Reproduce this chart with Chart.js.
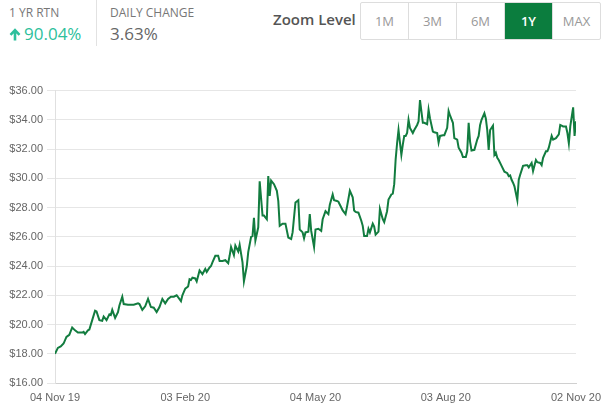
<!DOCTYPE html>
<html>
<head>
<meta charset="utf-8">
<script src="https://cdn.jsdelivr.net/npm/chart.js@4/dist/chart.umd.min.js"></script>
<style>
  html, body { margin: 0; padding: 0; background: #fff; }
  body { width: 615px; height: 413px; position: relative; overflow: hidden; font-family: "Open Sans", sans-serif; }
  .stat { position: absolute; top: 4px; }
  .stat .l { font-size: 12px; color: #777; letter-spacing: 0; }
  .stat .v { font-size: 17px; margin-top: 1px; }
  .divider { position: absolute; left: 96px; top: 0; width: 1px; height: 46px; background: #e2e2e2; }
  .zoom-label { position: absolute; left: 273px; top: 9px; font-size: 15px; font-weight: 600; color: #555; }
  .zoom { position: absolute; left: 360px; top: 2px; display: flex; border: 1px solid #ddd; border-radius: 2px; }
  .zoom span { width: 47px; height: 36px; line-height: 36px; text-align: center; font-size: 13px; color: #999; border-left: 1px solid #ddd; }
  .zoom span:first-child { border-left: none; }
  .zoom span.on { background: #0b7d3e; color: #fff; font-weight: 600; }
  #chart { position: absolute; left: 0; top: 80px; }
</style>
</head>
<body>
<div class="stat" style="left:9px;">
  <div class="l">1 YR RTN</div>
  <div class="v" style="color:#2dbf9c;"><svg width="12" height="13" viewBox="0 0 12 13" style="vertical-align:-1px;margin-right:3px;"><path d="M6 12.5V2.5M1.5 6.8L6 2.2L10.5 6.8" fill="none" stroke="#2dbf9c" stroke-width="2.6"/></svg>90.04%</div>
</div>
<div class="divider"></div>
<div class="stat" style="left:110px;">
  <div class="l">DAILY CHANGE</div>
  <div class="v" style="color:#666;">3.63%</div>
</div>
<div class="zoom-label">Zoom Level</div>
<div class="zoom"><span>1M</span><span>3M</span><span>6M</span><span class="on">1Y</span><span>MAX</span></div>
<canvas id="chart" width="615" height="333"></canvas>
<script>
// Days since 04 Nov 19, and closing price
const days = [
  0, 2, 4, 6, 8, 10, 12, 14, 16, 19, 20, 21, 23, 24, 26, 28, 29, 31, 33, 34,
  36, 38, 39, 40, 42, 44, 45, 47, 48, 51, 55, 58, 59, 61, 63, 65, 67, 69, 71, 73,
  75, 77, 79, 81, 83, 85, 88, 89, 91, 93, 94, 95, 96, 98, 99, 101, 103, 105, 106, 108,
  109, 110, 112, 114, 115, 117, 119, 121, 122, 123, 125, 126, 128, 129, 131, 132, 134, 135, 137, 138,
  139, 140, 142, 143, 145, 146, 148, 149, 150, 151, 153, 155, 156, 157, 159, 161, 163, 165, 166, 168,
  170, 171, 173, 174, 175, 177, 178, 179, 181, 182, 184, 186, 187, 189, 191, 192, 194, 195, 197, 198,
  200, 201, 203, 204, 206, 208, 209, 210, 212, 214, 215, 216, 218, 219, 220, 222, 223, 224, 226, 227,
  229, 230, 232, 233, 235, 236, 237, 238, 239, 240, 242, 243, 244, 245, 246, 247, 248, 250, 251, 253,
  254, 255, 257, 258, 260, 261, 262, 264, 265, 267, 268, 269, 271, 272, 274, 275, 276, 278, 279, 280,
  281, 282, 284, 285, 287, 288, 289, 290, 291, 293, 295, 296, 297, 298, 300, 301, 302, 303, 304, 306,
  307, 308, 309, 310, 312, 314, 316, 317, 318, 319, 320, 321, 323, 324, 325, 327, 329, 330, 331, 333,
  334, 336, 337, 339, 340, 341, 343, 344, 345, 347, 348, 350, 352, 353, 355, 357, 358, 359, 360, 362,
  363, 364
];
const prices = [
  18.0, 18.4, 18.5, 18.7, 19.15, 19.3, 19.8, 19.6, 19.45, 19.45, 19.5, 19.35, 19.6, 19.65, 20.3, 20.95, 20.9, 20.3, 20.25, 20.55,
  20.3, 20.7, 20.65, 21.0, 20.45, 20.85, 21.3, 21.9, 21.4, 21.35, 21.35, 21.45, 21.4, 21.0, 21.25, 21.75, 21.2, 21.15, 20.85, 21.2,
  21.75, 21.45, 21.75, 21.9, 21.9, 22.0, 21.6, 22.0, 22.45, 22.6, 23.1, 23.05, 23.2, 23.15, 22.95, 23.7, 23.45, 23.8, 23.6, 23.9,
  24.0, 24.25, 24.7, 24.7, 24.35, 24.35, 24.4, 24.2, 24.7, 25.3, 24.75, 25.4, 25.0, 25.45, 24.25, 22.95, 24.0, 24.95, 26.0, 26.05,
  27.3, 25.75, 26.65, 29.8, 27.45, 27.45, 27.2, 30.15, 28.8, 29.85, 29.6, 29.15, 28.45, 26.75, 26.9, 26.9, 25.95, 25.85, 26.3, 28.35,
  28.5, 26.5, 26.3, 25.9, 26.3, 26.35, 27.55, 26.4, 25.3, 26.5, 26.55, 26.4, 27.2, 27.75, 27.55, 28.2, 28.9, 28.5, 28.45, 28.4,
  28.0, 27.8, 27.55, 28.05, 29.15, 28.7, 27.8, 27.7, 27.65, 27.1, 26.75, 26.05, 26.05, 26.55, 26.3, 26.9, 26.7, 26.15, 26.35, 27.9,
  27.2, 27.0, 27.75, 28.55, 28.9, 28.95, 29.6, 31.3, 32.4, 33.3, 31.6, 32.3, 32.9, 32.9, 33.1, 34.0, 33.45, 33.1, 33.3, 33.65,
  33.9, 35.35, 33.8, 33.8, 33.7, 34.7, 34.1, 33.2, 33.15, 33.1, 32.45, 32.9, 32.95, 32.95, 33.45, 34.6, 34.3, 33.8, 32.75, 32.7,
  32.65, 32.1, 31.75, 31.45, 31.45, 31.85, 33.8, 32.5, 31.9, 31.95, 32.65, 32.9, 33.65, 34.0, 34.45, 34.1, 33.3, 31.95, 33.3, 33.6,
  31.6, 31.75, 31.4, 31.25, 30.85, 30.45, 30.35, 30.15, 30.2, 29.9, 29.7, 29.45, 28.5, 29.9, 30.25, 30.85, 30.9, 30.9, 30.75, 31.05,
  30.5, 31.25, 31.1, 31.05, 30.9, 31.4, 31.85, 31.85, 32.1, 32.9, 32.65, 32.75, 33.0, 33.65, 33.55, 33.55, 33.1, 32.4, 33.55, 34.85,
  32.9, 33.9
];
const tickDays = [0, 91, 182, 273, 364];
const tickLabels = ['04 Nov 19', '03 Feb 20', '04 May 20', '03 Aug 20', '02 Nov 20'];

const GREEN = '#127c3f';
const AXIS_FONT = { family: 'Liberation Sans, Arial, sans-serif', size: 11 };

new Chart(document.getElementById('chart'), {
  type: 'line',
  data: {
    datasets: [{
      data: days.map((d, i) => ({ x: d, y: prices[i] })),
      borderColor: GREEN,
      borderWidth: 2,
      pointRadius: 0,
      tension: 0,
      fill: false,
    }],
  },
  options: {
    responsive: false,
    animation: false,
    layout: { padding: { top: 9, right: 39, left: 0, bottom: 0 } },
    plugins: { legend: { display: false }, tooltip: { enabled: false } },
    scales: {
      x: {
        type: 'linear',
        min: 0, max: 364,
        afterBuildTicks: (s) => { s.ticks = tickDays.map((v) => ({ value: v })); },
        afterFit: (s) => { s.height = 30; },
        grid: { display: false, drawTicks: false },
        border: { display: true, color: '#d0d0d0' },
        ticks: {
          padding: 8, color: '#666', font: AXIS_FONT, maxRotation: 0, autoSkip: false,
          callback: (v) => tickLabels[tickDays.indexOf(v)] ?? '',
        },
      },
      y: {
        min: 16, max: 36,
        afterFit: (s) => { s.width = 55; },
        grid: { color: '#e6e6e6', tickLength: 8 },
        border: { display: true, color: '#e0e0e0' },
        ticks: {
          stepSize: 2, padding: 4, color: '#666', font: AXIS_FONT,
          callback: (v) => '$' + v.toFixed(2),
        },
      },
    },
  },
});
</script>
</body>
</html>
